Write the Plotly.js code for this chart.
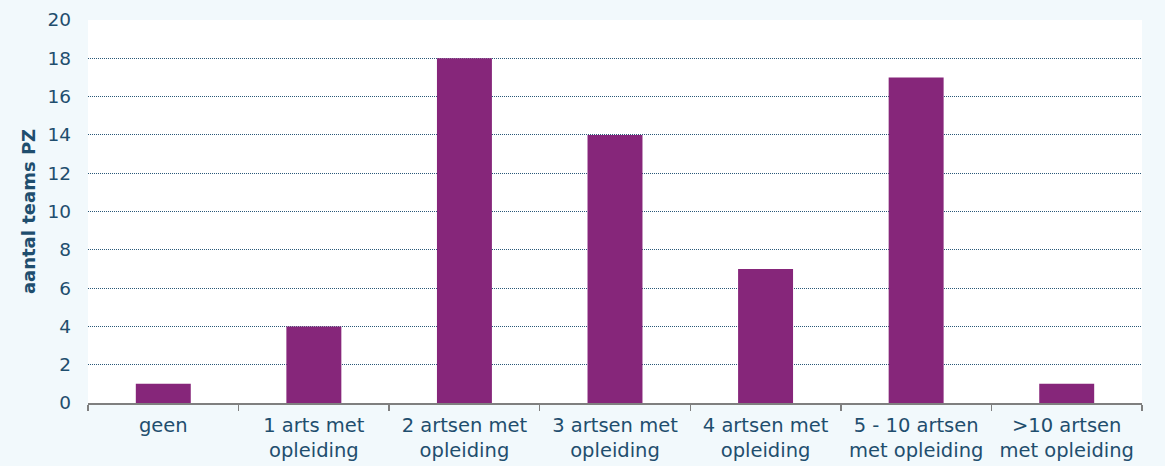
<!DOCTYPE html>
<html>
<head>
<meta charset="utf-8">
<script src="https://cdn.plot.ly/plotly-3.0.1.min.js"></script>
<style>html,body{margin:0;padding:0;background:#F2F9FC;}#chart{width:1165px;height:466px;}</style>
</head>
<body>
<div id="chart"></div>
<script>
var categories = ["geen", "1 arts met<br>opleiding", "2 artsen met<br>opleiding", "3 artsen met<br>opleiding", "4 artsen met<br>opleiding", "5 - 10 artsen<br>met opleiding", ">10 artsen<br>met opleiding"];
var values = [1, 4, 18, 14, 7, 17, 1];
var yTitle = "aantal teams PZ";

var textColor = "#1F4E6E";
var trace = {
  type: "bar",
  x: categories,
  y: values,
  marker: {color: "#86267A"},
  hoverinfo: "x+y"
};
var layout = {
  width: 1165, height: 466,
  paper_bgcolor: "#F2F9FC",
  plot_bgcolor: "#FFFFFF",
  margin: {l: 88, r: 23, t: 20, b: 63},
  bargap: 0.635,
  font: {family: "'DejaVu Sans', sans-serif", size: 19, color: textColor},
  showlegend: false,
  xaxis: {
    type: "category",
    showgrid: false,
    showline: true, linecolor: "#7F7F7F", linewidth: 1.5,
    ticks: "outside", tickson: "boundaries", ticklen: 6, tickcolor: "#7F7F7F", tickwidth: 1.5,
    ticklabelstandoff: 4,
    tickfont: {size: 19.5, color: textColor},
    automargin: false
  },
  yaxis: {
    range: [0, 20], dtick: 2,
    showgrid: true, gridcolor: "#2A5878", gridwidth: 1, griddash: "1px,1px",
    zeroline: false, showline: false,
    ticks: "", ticklabelstandoff: 16,
    tickfont: {size: 18.5, color: textColor},
    title: {text: "<b>" + yTitle + "</b>", font: {size: 18, color: textColor}, standoff: 7},
    automargin: false
  }
};
Plotly.newPlot("chart", [trace], layout, {displayModeBar: false, staticPlot: true});
</script>
</body>
</html>
